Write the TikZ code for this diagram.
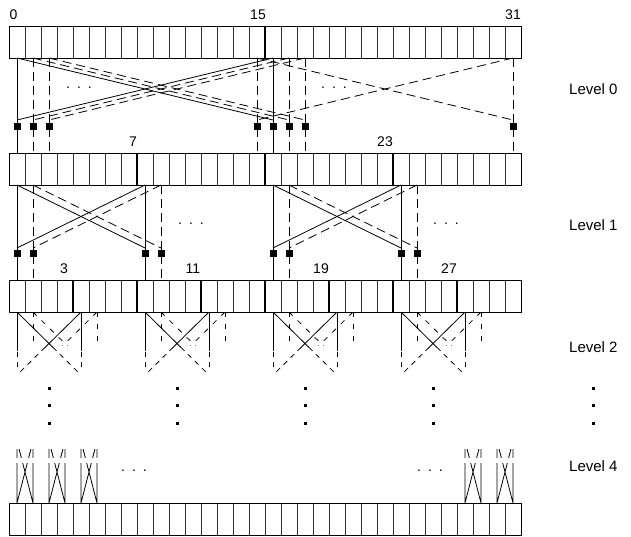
\documentclass[tikz,border=0pt]{standalone}
\usepackage{fontspec}
\setmainfont{Liberation Sans}

% one row of 32 cells: #1 row name, #2 top edge
\newcommand\cellrow[2]{%
  \foreach \i in {1,...,31} \draw[cellrule] ({9+16*\i},#2) -- ({9+16*\i},#2+32);
  \draw[frame] (9,#2) rectangle (521,#2+32);
  \foreach \i in {0,...,31} {
    \coordinate (#1t\i) at ({17+16*\i},#2);
    \coordinate (#1b\i) at ({17+16*\i},#2+32);
  }%
}
% one butterfly: #1 upper row, #2 lower row, #3/#4 paired cells, #5 wire style, #6 drop of the crossing wires
\newcommand\bfly[6]{%
  \path (#1b#3) ++(0,#6) coordinate (#1x#3) (#1b#4) ++(0,#6) coordinate (#1x#4);
  \draw[#5] (#1b#3) -- (#2t#3);
  \draw[#5] (#1b#4) -- (#2t#4);
  \draw[#5] (#1b#3) -- (#1x#4);
  \draw[#5] (#1b#4) -- (#1x#3);
}
% a thick separator after cell #2 in the row whose top edge is #1
\newcommand\blocksep[2]{\draw[blockrule] ({9+16*(#2+1)},#1) -- ({9+16*(#2+1)},#1+32);}

\begin{document}
\begin{tikzpicture}[x=1pt,y=-1pt,
  cellrule/.style={line width=0.7pt,black!80},
  frame/.style={line width=0.9pt},
  blockrule/.style={line width=2.4pt},
  wire/.style={line width=0.8pt},
  dwire/.style={line width=0.8pt,dash pattern=on 9pt off 5pt},
  fwire/.style={line width=0.8pt,dash pattern=on 5pt off 5pt},
  gwire/.style={line width=0.8pt,dash pattern=on 5pt off 7pt},
  port/.style={rectangle,fill=black,minimum size=7pt,inner sep=0pt},
  idx/.style={font=\fontsize{14}{14}\selectfont,anchor=base,inner sep=0pt},
  lvl/.style={font=\fontsize{15}{15}\selectfont,anchor=west,inner sep=0pt},
  hdots/.style={font=\fontsize{14}{14}\selectfont,inner sep=0pt},
  vdot/.style={rectangle,fill=black,minimum size=3pt,inner sep=0pt},
]
\useasboundingbox (0,0) rectangle (631,536);

% ---- cell rows ----
\cellrow{A0}{26}
\blocksep{26}{15}
\cellrow{A1}{153}
\foreach \k in {7,15,23} {\blocksep{153}{\k}}
\cellrow{A2}{280}
\foreach \k in {3,7,11,15,19,23,27} {\blocksep{280}{\k}}
\cellrow{A3}{503}

% far ends of the level 2 wires and of the level 4 wires
\foreach \i in {0,...,31} {
  \coordinate (F2t\i) at ({17+16*\i},375);
  \coordinate (F4b\i) at ({17+16*\i},441);
}

% ---- index labels ----
\node[idx] (n0)  at (13.5,19) {0};
\node[idx] (n15) at (258,19) {15};
\node[idx] (n31) at (513,19) {31};
\node[idx] (n7)  at (133,146) {7};
\node[idx] (n23) at (385,146) {23};
\node[idx] (n3)  at (64,273) {3};
\node[idx] (n11) at (193,273) {11};
\node[idx] (n19) at (321,273) {19};
\node[idx] (n27) at (449,273) {27};

% ---- level 0: cell i with cell i+16 ----
\bfly{A0}{A1}{0}{16}{wire}{62}
\foreach \p in {1,2,15} {
  \pgfmathtruncatemacro\q{\p+16}
  \bfly{A0}{A1}{\p}{\q}{dwire}{62}
}
\foreach \c in {0,1,2,15,16,17,18,31} {
  \path (A0b\c) ++(0,68.5) node[port] (P0-\c) {};
}
\node[hdots] (d0a) at (79,88) {.\kern7pt.\kern7pt.};
\node[hdots] (d0b) at (334,88) {.\kern7pt.\kern7pt.};

% ---- level 1: cell i with cell i+8 ----
\foreach \p in {0,16} {
  \pgfmathtruncatemacro\q{\p+8}
  \bfly{A1}{A2}{\p}{\q}{wire}{63}
}
\foreach \p in {1,17} {
  \pgfmathtruncatemacro\q{\p+8}
  \bfly{A1}{A2}{\p}{\q}{dwire}{63}
}
\foreach \c in {0,1,8,9,16,17,24,25} {
  \path (A1b\c) ++(0,68.5) node[port] (P1-\c) {};
}
\node[hdots] (d1a) at (191,224) {.\kern7pt.\kern7pt.};
\node[hdots] (d1b) at (446,224) {.\kern7pt.\kern7pt.};

% ---- level 2: cell i with cell i+4, fading out ----
\begin{scope}
  \clip (0,312) rectangle (631,350);
  \foreach \p in {0,8,16,24} {
    \pgfmathtruncatemacro\q{\p+4}
    \bfly{A2}{F2}{\p}{\q}{wire}{63}
  }
\end{scope}
\begin{scope}
  \clip (0,351) rectangle (631,371);
  \foreach \p in {0,8,16,24} {
    \pgfmathtruncatemacro\q{\p+4}
    \bfly{A2}{F2}{\p}{\q}{fwire}{63}
  }
\end{scope}
\begin{scope}
  \clip (0,312) rectangle (631,345);
  \foreach \p in {1,9,17,25} {
    \pgfmathtruncatemacro\q{\p+4}
    \bfly{A2}{F2}{\p}{\q}{gwire}{63}
  }
\end{scope}

% ---- elided levels ----
\foreach \x in {49,177,305,433,593} {
  \foreach \y in {388,405,423} {
    \node[vdot] (v\x at \y) at (\x,\y) {};
  }
}

% ---- level 4: cell i with cell i+1, fading in ----
\begin{scope}
  \clip (0,463) rectangle (631,503);
  \foreach \p in {0,2,4,28,30} {
    \pgfmathtruncatemacro\q{\p+1}
    \draw[wire] (A3t\p) -- (F4b\p) (A3t\q) -- (F4b\q) (A3t\p) -- (F4b\q) (A3t\q) -- (F4b\p);
  }
\end{scope}
\begin{scope}
  \clip (0,449) rectangle (631,457);
  \foreach \p in {0,2,4,28,30} {
    \pgfmathtruncatemacro\q{\p+1}
    \draw[wire] (A3t\p) -- (F4b\p) (A3t\q) -- (F4b\q) (A3t\p) -- (F4b\q) (A3t\q) -- (F4b\p);
  }
\end{scope}
\node[hdots] (d4a) at (134,471) {.\kern7pt.\kern7pt.};
\node[hdots] (d4b) at (430,471) {.\kern7pt.\kern7pt.};

% ---- level labels ----
\node[lvl] (lv0) at (569,89) {Level 0};
\node[lvl] (lv1) at (569,225) {Level 1};
\node[lvl] (lv2) at (569,347) {Level 2};
\node[lvl] (lv4) at (569,466) {Level 4};
\end{tikzpicture}
\end{document}
